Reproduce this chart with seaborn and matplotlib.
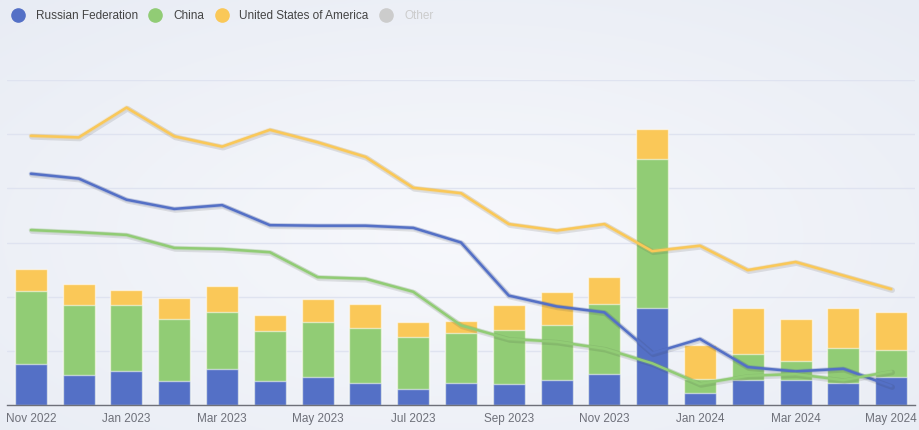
import numpy as np
import pandas as pd
import matplotlib
matplotlib.use("Agg")
import matplotlib.pyplot as plt
import matplotlib.patheffects as pe
from matplotlib.lines import Line2D
import seaborn as sns

# ---------------- data ----------------
months = ["Nov 2022", "Dec 2022", "Jan 2023", "Feb 2023", "Mar 2023", "Apr 2023",
          "May 2023", "Jun 2023", "Jul 2023", "Aug 2023", "Sep 2023", "Oct 2023",
          "Nov 2023", "Dec 2023", "Jan 2024", "Feb 2024", "Mar 2024", "Apr 2024",
          "May 2024"]

russia_bar = [0.76, 0.555, 0.635, 0.44, 0.66, 0.44, 0.525, 0.40, 0.30, 0.40,
              0.38, 0.47, 0.57, 1.79, 0.22, 0.46, 0.46, 0.41, 0.525]
china_bar = [1.34, 1.29, 1.215, 1.14, 1.06, 0.93, 1.00, 1.03, 0.95, 0.93,
             1.00, 1.00, 1.29, 2.76, 0.26, 0.49, 0.36, 0.64, 0.49]
usa_bar = [0.42, 0.39, 0.27, 0.40, 0.47, 0.30, 0.44, 0.43, 0.28, 0.23,
           0.46, 0.61, 0.50, 0.55, 0.63, 0.85, 0.77, 0.75, 0.70]

russia_line = [4.27, 4.18, 3.79, 3.62, 3.69, 3.32, 3.31, 3.31, 3.27, 3.00,
               2.02, 1.82, 1.71, 0.955, 1.22, 0.70, 0.62, 0.67, 0.35]
china_line = [3.23, 3.19, 3.14, 2.90, 2.88, 2.82, 2.36, 2.33, 2.09, 1.47,
              1.22, 1.17, 1.04, 0.77, 0.39, 0.54, 0.57, 0.46, 0.62]
usa_line = [4.97, 4.94, 5.49, 4.96, 4.77, 5.08, 4.85, 4.58, 4.01, 3.91,
            3.34, 3.22, 3.34, 2.84, 2.94, 2.49, 2.64, 2.39, 2.14]

series_names = ["Russian Federation", "China", "United States of America", "Other"]
colors = {"Russian Federation": "#5470c6", "China": "#91cc75",
          "United States of America": "#fac858", "Other": "#cccccc"}
y_ticks = [0, 1, 2, 3, 4, 5, 6]

# ---------------- figure ----------------
sns.set_theme(style="white")
plt.rcParams["font.family"] = ["Liberation Sans", "DejaVu Sans"]

W, H = 920, 430
fig = plt.figure(figsize=(W / 100, H / 100), dpi=100)

# background gradient
bg = fig.add_axes([0, 0, 1, 1], zorder=-10)
yy, xx = np.mgrid[0:1:200j, 0:1:400j]
r = np.sqrt(((xx - 0.5) / 0.75) ** 2 + ((yy - 0.55) / 0.75) ** 2)
c_in = np.array([0.968, 0.973, 0.988])
c_out = np.array([0.910, 0.925, 0.957])
t = np.clip(r, 0, 1)[..., None]
img = c_in * (1 - t) + c_out * t
bg.imshow(img, aspect="auto", extent=[0, 1, 0, 1])
bg.axis("off")

left, right = 7 / W, 915 / W
bottom, top = (H - 405) / H, (H - 80) / H
ax = fig.add_axes([left, bottom, right - left, top - bottom])
ax.set_facecolor("none")

df = pd.DataFrame({"month": months,
                   "r": russia_bar,
                   "rc": np.add(russia_bar, china_bar),
                   "rcu": np.add(np.add(russia_bar, china_bar), usa_bar)})

edge = (1, 1, 1, 0.55)
sns.barplot(data=df, x="month", y="rcu", color=colors["United States of America"],
            saturation=1, width=0.67, edgecolor=edge, linewidth=1, ax=ax, zorder=2)
sns.barplot(data=df, x="month", y="rc", color=colors["China"],
            saturation=1, width=0.67, edgecolor=edge, linewidth=1, ax=ax, zorder=2)
sns.barplot(data=df, x="month", y="r", color=colors["Russian Federation"],
            saturation=1, width=0.67, edgecolor=edge, linewidth=1, ax=ax, zorder=2)

ldf = pd.DataFrame({"month": months, "Russian Federation": russia_line,
                    "China": china_line, "United States of America": usa_line})
for name in ["Russian Federation", "China", "United States of America"]:
    sns.lineplot(data=ldf, x="month", y=name, sort=False, color=colors[name],
                 linewidth=1.8, ax=ax, zorder=4,
                 path_effects=[pe.SimpleLineShadow(offset=(0.8, -0.8), shadow_color="#333333",
                                                   alpha=0.12, linewidth=4),
                               pe.Stroke(linewidth=3.2, foreground=colors[name], alpha=0.25),
                               pe.Normal()])

n = len(months)
ax.set_xlim(-0.5, n - 0.5)
ax.set_ylim(y_ticks[0], y_ticks[-1])
ax.set_yticks(y_ticks)
ax.set_yticklabels([])
ax.tick_params(axis="y", length=0)
ax.grid(axis="y", color="#dfe3f0", linewidth=1, zorder=0)
ax.set_axisbelow(True)
ax.set_xlabel("")
ax.set_ylabel("")

# x ticks at category boundaries, labels on every other category
bounds = list(np.arange(-0.5, n, 2)) + [n - 0.5]
ax.set_xticks(bounds)
ax.set_xticklabels([])
ax.tick_params(axis="x", length=5, width=1, color="#6e7079", direction="out", pad=0)
ax.set_xticks(list(range(0, n, 2)), minor=True)
ax.set_xticklabels([months[i] for i in range(0, n, 2)], minor=True,
                   fontsize=8.5, color="#6e7079")
ax.tick_params(axis="x", which="minor", length=0, pad=5.5)

for s in ["top", "right", "left"]:
    ax.spines[s].set_visible(False)
ax.spines["bottom"].set_color("#6e7079")
ax.spines["bottom"].set_linewidth(1)
ax.spines["bottom"].set_zorder(5)

# legend
handles = [Line2D([], [], linestyle="none", marker="o", markersize=9.5,
                  markerfacecolor=colors[nm], markeredgecolor=colors[nm])
           for nm in series_names]
leg = fig.legend(handles, series_names, loc="center left",
                 bbox_to_anchor=(12 / W, 1 - 16 / H), ncol=4, frameon=False,
                 fontsize=8.5, handlelength=1.0, handletextpad=1.0,
                 columnspacing=1.0, borderpad=0, borderaxespad=0)
for txt, nm in zip(leg.get_texts(), series_names):
    txt.set_color("#cccccc" if nm == "Other" else "#444444")

fig.savefig("out.png", dpi=100)
